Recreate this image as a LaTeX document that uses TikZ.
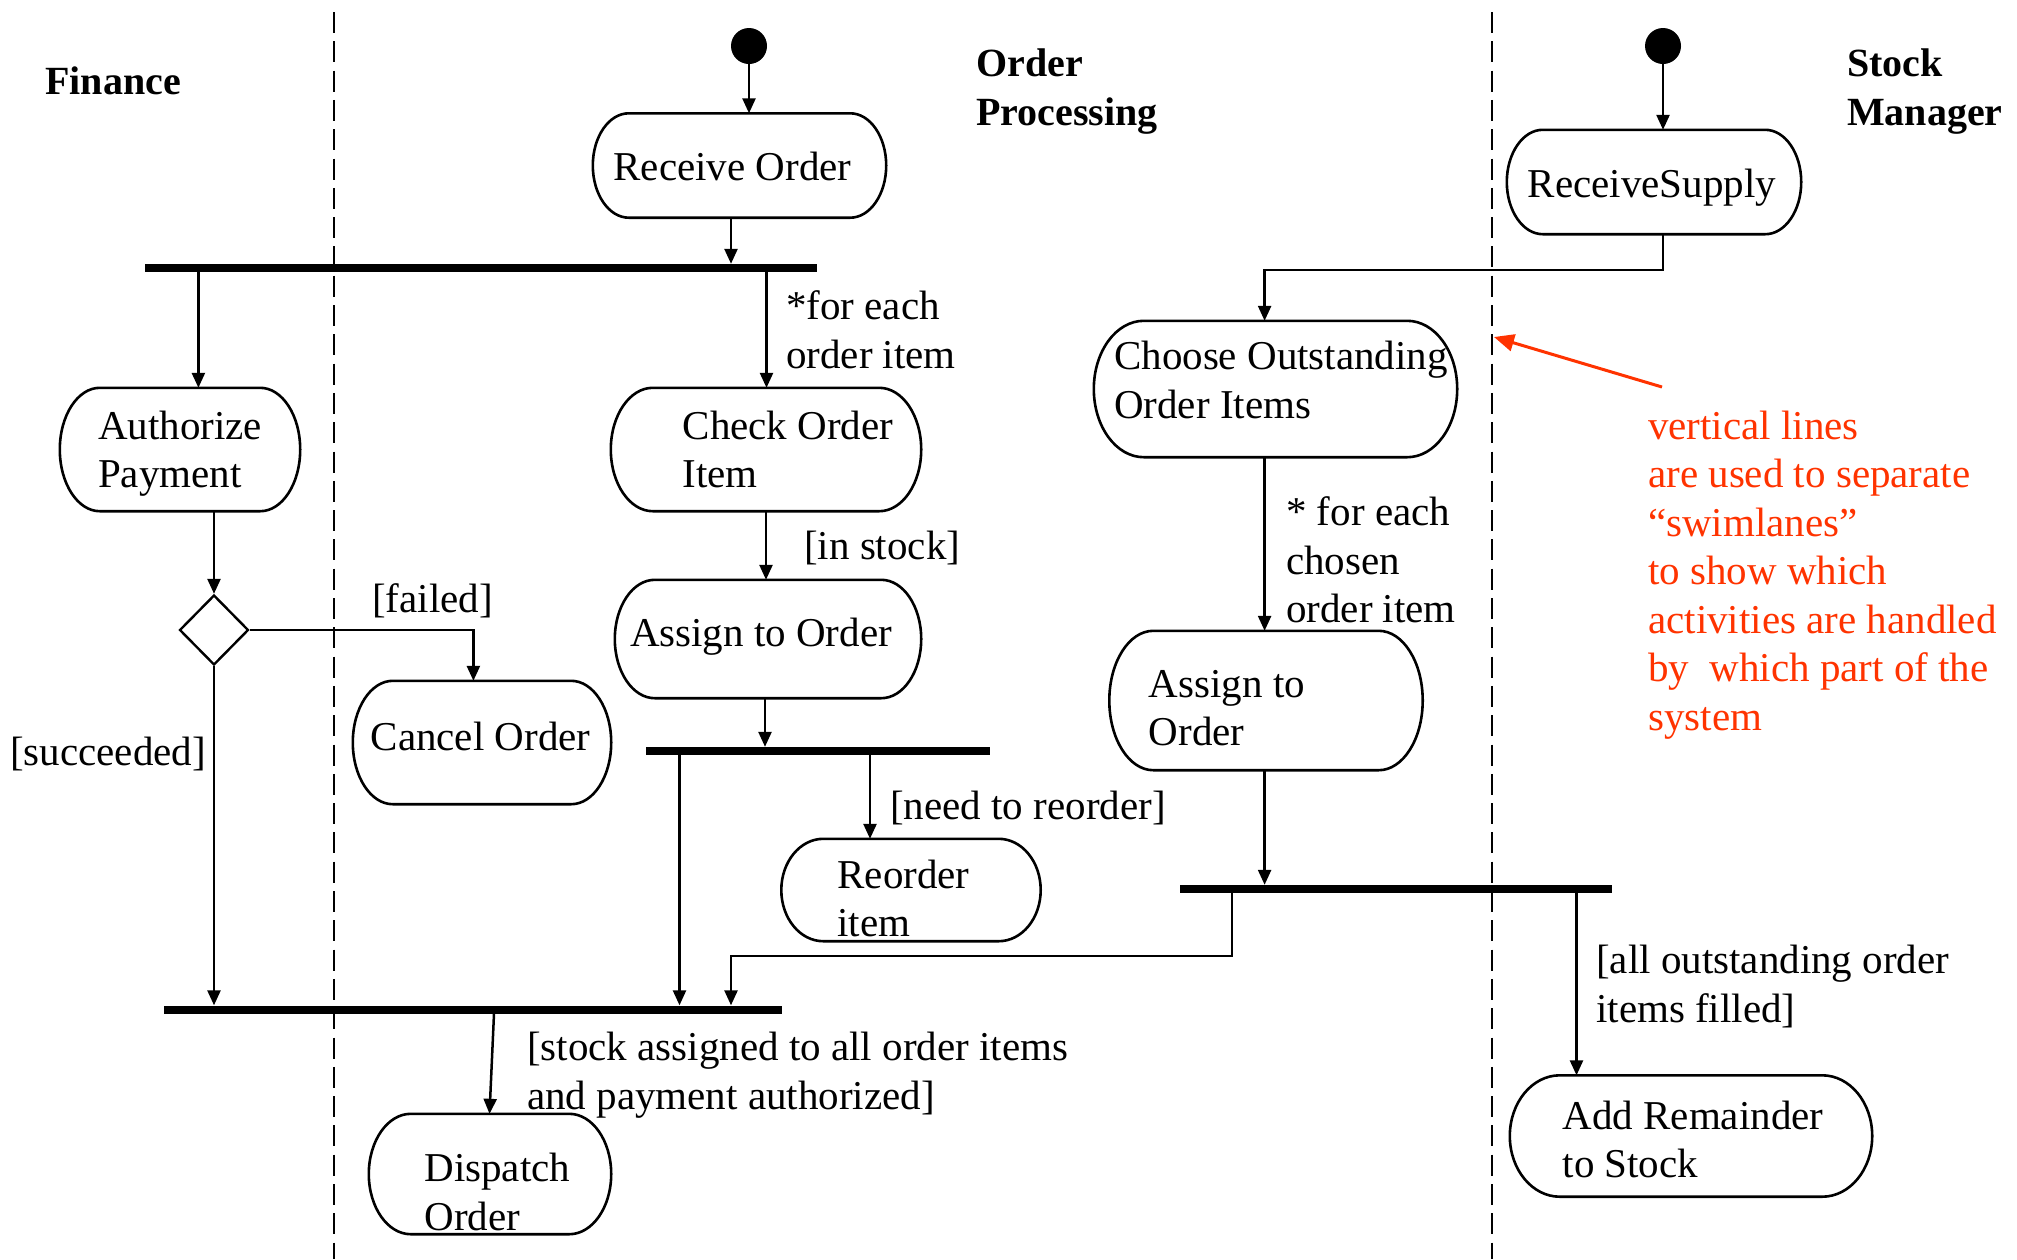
\documentclass[tikz,border=0pt]{standalone}
\usepackage{fontspec}
\setmainfont{Liberation Serif}
\usetikzlibrary{arrows.meta,shapes.geometric,calc}
\definecolor{note}{HTML}{FF3300}
\begin{document}
\begin{tikzpicture}[x=1pt,y=-1pt,
  txt/.style={inner sep=0pt, align=left, font=\fontsize{41}{48.5}\selectfont},
  head/.style={inner sep=0pt, align=left, font=\fontsize{40}{49}\selectfont\bfseries},
  act/.style 2 args={rectangle, inner sep=0pt, minimum width=#1, minimum height=#2},
  actbox/.style={line width=2.6pt},
  bar/.style={fill=black, inner sep=0pt, minimum height=8pt},
  decision/.style={diamond, draw, line width=2.4pt, inner sep=0pt, minimum width=69pt, minimum height=70pt},
  startnode/.style={circle, fill=black, inner sep=0pt, minimum size=36pt},
  flow/.style={line width=2.5pt, -{Triangle[length=15pt,width=13pt]}},
  noteflow/.style={line width=3pt, draw=note, -{Triangle[length=20pt,width=17pt]}},
  lane/.style={line width=2.5pt, dash pattern=on 21pt off 8.3pt}
]
\useasboundingbox (0,0) rectangle (2017,1259);

% swimlane separators
\draw[lane] (334,12) -- (334,1259);
\draw[lane] (1492,12) -- (1492,1259);

% headings
\node[head, anchor=west] (hfin) at (45,81) {Finance};
\node[head, anchor=west] (hord) at (976,91.5) {Order\\Processing};
\node[head, anchor=west] (hstk) at (1847,91.5) {Stock\\Manager};

% initial nodes
\node[startnode] (i1) at (749,46) {};
\node[startnode] (i2) at (1663,46) {};

% activities
\node[act={293}{104}, label={[txt,shift={(-7,1)}]center:Receive Order}] (recv) at (739.5,165.5) {};
\node[act={294}{104}, label={[txt,shift={(-2,6)}]center:ReceiveSupply}] (rsup) at (1654,182) {};
\node[act={240}{123}, label={[txt,shift={(0,4)}]center:{Authorize\\Payment}}] (auth) at (180,449.5) {};
\node[act={310}{123}, label={[txt,shift={(22,0)}]center:{Check Order\\Item}}] (check) at (766,449.5) {};
\node[act={306}{118}, label={[txt,shift={(-7,-2)}]center:Assign to Order}] (asg1) at (768,639) {};
\node[act={258}{123}, label={[txt,shift={(-1.5,-6.5)}]center:Cancel Order}] (cancel) at (482,742.5) {};
\node[act={259}{102}, label={[txt,shift={(-7.5,8.5)}]center:{Reorder\\item}}] (reord) at (911,890) {};
\node[act={363}{136}, label={[txt,shift={(5.5,-9)}]center:{Choose Outstanding\\Order Items}}] (choose) at (1275.5,389) {};
\node[act={313}{139}, label={[txt,shift={(-39,7.5)}]center:{Assign to\\Order}}] (asg2) at (1266,700.5) {};
\node[act={362}{121}, label={[txt,shift={(2,3.5)}]center:{Add Remainder\\to Stock}}] (addrem) at (1691,1136) {};
\node[act={242}{120}, label={[txt,shift={(7.4,18)}]center:{Dispatch\\Order}}] (disp) at (490,1174) {};

\foreach \nd/\rr in {recv/36, rsup/36, auth/40, check/42, asg1/40, cancel/40, reord/42, choose/50, asg2/44, addrem/50, disp/42}{
  \draw[actbox] let \p1=(\nd.north west), \p2=(\nd.south east), \n1={(\y1-\y2)/2} in
    (\x1+\rr pt,\y1) -- (\x2-\rr pt,\y1)
    arc[start angle=90, end angle=-90, x radius=\rr pt, y radius=\n1]
    -- (\x1+\rr pt,\y2)
    arc[start angle=270, end angle=90, x radius=\rr pt, y radius=\n1] -- cycle;
}

% synchronisation bars
\node[bar, minimum width=671.5pt] (b1) at (481,268) {};
\node[bar, minimum width=344pt] (b2) at (818,751) {};
\node[bar, minimum width=618.5pt] (b3) at (473,1009.5) {};
\node[bar, minimum width=432pt] (b4) at (1396,889) {};

% decision
\node[decision] (dec) at (214,630) {};

% connectors
\draw[flow] (i1) -- (i1 |- recv.north);
\draw[flow] (731,0 |- recv.south) -- (731,0 |- b1.north);
\draw[flow] (198.4,0 |- b1.south) -- (198.4,0 |- auth.north);
\draw[flow] (766.5,0 |- b1.south) -- (766.5,0 |- check.north);
\draw[flow] (766,0 |- check.south) -- (766,0 |- asg1.north);
\draw[flow] (765,0 |- asg1.south) -- (765,0 |- b2.north);
\draw[flow] (214,0 |- auth.south) -- (dec.north);
\draw[flow] (dec.east) -| (473.4,0 |- cancel.north);
\draw[flow] (dec.south) -- (dec.south |- b3.north);
\draw[flow] (679.5,0 |- b2.south) -- (679.5,0 |- b3.north);
\draw[flow] (870,0 |- b2.south) -- (870,0 |- reord.north);
\draw[flow] (i2) -- (i2 |- rsup.north);
\coordinate (k1) at (1264.6,270);
\draw[flow] (1663,0 |- rsup.south) |- (k1) -- (k1 |- choose.north);
\draw[flow] (1264.6,0 |- choose.south) -- (1264.6,0 |- asg2.north);
\draw[flow] (1264.6,0 |- asg2.south) -- (1264.6,0 |- b4.north);
\coordinate (k2) at (731,956);
\draw[flow] (1232,0 |- b4.south) |- (k2) -- (k2 |- b3.north);
\draw[flow] (1576.5,0 |- b4.south) -- (1576.5,0 |- addrem.north);
\draw[flow] (494,0 |- b3.south) -- (489.5,0 |- disp.north);

% guard / edge labels
\node[txt, anchor=west] (l1) at (786,330) {*for each\\order item};
\node[txt, anchor=west] (l2) at (804,548) {[in stock]};
\node[txt, anchor=west] (l3) at (372,600.5) {[failed]};
\node[txt, anchor=west] (l4) at (10,754.5) {[succeeded]};
\node[txt, anchor=west] (l5) at (890,808) {[need to reorder]};
\node[txt, anchor=west] (l6) at (1286,560) {* for each\\chosen\\order item};
\node[txt, anchor=west] (l7) at (1596,986.5) {[all outstanding order\\items filled]};
\node[txt, anchor=west] (l8) at (527,1075) {[stock assigned to all order items\\and payment authorized]};

% annotation
\node[txt, anchor=west, text=note] (note) at (1648,575) {vertical lines\\are used to separate\\“swimlanes”\\to show which\\activities are handled\\by\ \ which part of the\\system};
\coordinate (r1) at (1662,387);
\coordinate (r2) at (1494,337);
\draw[noteflow] (r1) -- (r2);
\end{tikzpicture}
\end{document}
